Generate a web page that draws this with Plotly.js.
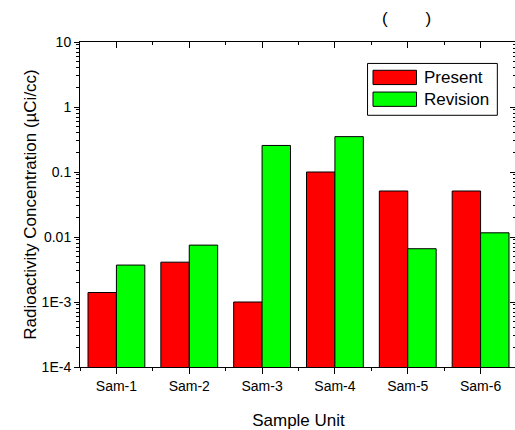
<!DOCTYPE html>
<html>
<head>
<meta charset="utf-8">
<script src="https://cdn.plot.ly/plotly-3.0.1.min.js"></script>
<style>
html,body{margin:0;padding:0;overflow:hidden;background:#fff;}
#chart{width:518px;height:430px;}
</style>
</head>
<body>
<div id="chart"></div>
<script>
// ---- data ----
const categories = ["Sam-1", "Sam-2", "Sam-3", "Sam-4", "Sam-5", "Sam-6"];
const presentValues = [0.0014, 0.0041, 0.0010, 0.100, 0.051, 0.051];
const revisionValues = [0.0037, 0.0075, 0.256, 0.35, 0.0066, 0.0116];
const seriesNames = ["Present", "Revision"];
const seriesColors = ["#ff0000", "#00ff00"];
const yTickValues = [1e-4, 1e-3, 0.01, 0.1, 1, 10];
const yTickLabels = ["1E-4", "1E-3", "0.01", "0.1", "1", "10"];
const titleText = "(\u00A0\u00A0\u00A0\u00A0\u00A0\u00A0\u00A0\u00A0)";
const xTitle = "Sample Unit";
const yTitle = "Radioactivity Concentration (\u00B5Ci/cc)";

const xpos = categories.map((c, i) => i);
const font = "Liberation Sans, Arial, sans-serif";
const seriesValues = [presentValues, revisionValues];

const traces = seriesValues.map((vals, k) => ({
  type: "bar", name: seriesNames[k], x: xpos, y: vals, showlegend: false,
  marker: {color: seriesColors[k], line: {color: "#000", width: 1}}
}));
traces.push({type: "scatter", mode: "none", x: xpos, y: presentValues, xaxis: "x2", yaxis: "y2",
   showlegend: false, hoverinfo: "skip"});

const xCommon = {
  range: [-0.5, 5.5], showgrid: false, zeroline: false,
  showline: true, linecolor: "#000", linewidth: 1,
  tickmode: "array", tickvals: xpos, ticktext: categories,
  tickcolor: "#000", tickwidth: 1
};
const yCommon = {
  type: "log", range: [-4, 1], showgrid: false, zeroline: false,
  showline: true, linecolor: "#000", linewidth: 1,
  tickmode: "array", tickvals: yTickValues, ticktext: yTickLabels,
  tickcolor: "#000", tickwidth: 1
};

// legend drawn as box + swatches + labels (paper coordinates)
const legendBox = {x0: 0.658, x1: 0.955, y0: 0.7745, y1: 0.934};
const swatchX = [0.6705, 0.770];
const rowY = [0.891, 0.824];
const swatchHalf = 0.022;
const shapes = [{type: "rect", xref: "paper", yref: "paper",
  x0: legendBox.x0, x1: legendBox.x1, y0: legendBox.y0, y1: legendBox.y1,
  line: {color: "#000", width: 1}, fillcolor: "#fff", layer: "above"}];
const annotations = [];
seriesNames.forEach((nm, k) => {
  shapes.push({type: "rect", xref: "paper", yref: "paper",
    x0: swatchX[0], x1: swatchX[1], y0: rowY[k] - swatchHalf, y1: rowY[k] + swatchHalf,
    line: {color: "#000", width: 1}, fillcolor: seriesColors[k], layer: "above"});
  annotations.push({text: nm, xref: "paper", yref: "paper", x: 0.783, y: rowY[k],
    xanchor: "left", yanchor: "middle", showarrow: false,
    font: {family: font, size: 17, color: "#000"}});
});
annotations.push({text: titleText, xref: "paper", yref: "paper", x: 0.748, y: 1.073,
  xanchor: "center", yanchor: "middle", showarrow: false,
  font: {family: font, size: 17, color: "#000"}});

const layout = {
  width: 518, height: 430,
  margin: {l: 80, r: 1, t: 42, b: 63},
  paper_bgcolor: "#fff", plot_bgcolor: "#fff",
  font: {family: font, size: 14, color: "#000"},
  barmode: "group", bargap: 0.22, bargroupgap: 0,
  showlegend: false,
  xaxis: Object.assign({}, xCommon, {
    ticks: "outside", ticklen: 6,
    minor: {tick0: 0.5, dtick: 1, ticks: "outside", ticklen: 3, tickcolor: "#000", showgrid: false},
    tickfont: {family: font, size: 14},
    title: {text: xTitle, font: {family: font, size: 17}}
  }),
  yaxis: Object.assign({}, yCommon, {
    ticks: "outside", ticklen: 5,
    minor: {dtick: "D1", ticks: "outside", ticklen: 3, tickcolor: "#000", showgrid: false},
    tickfont: {family: font, size: 14},
    title: {text: yTitle, font: {family: font, size: 17}}
  }),
  xaxis2: Object.assign({}, xCommon, {
    overlaying: "x", side: "top", anchor: "y2", matches: "x",
    ticks: "inside", ticklen: 6, showticklabels: false,
    minor: {tick0: 0.5, dtick: 1, ticks: "inside", ticklen: 3, tickcolor: "#000", showgrid: false}
  }),
  yaxis2: Object.assign({}, yCommon, {
    overlaying: "y", side: "right", anchor: "x2",
    ticks: "inside", ticklen: 7, showticklabels: false,
    minor: {dtick: "D1", ticks: "inside", ticklen: 4, tickcolor: "#000", showgrid: false}
  }),
  shapes: shapes,
  annotations: annotations
};

Plotly.newPlot("chart", traces, layout, {displayModeBar: false, staticPlot: true});
</script>
</body>
</html>
